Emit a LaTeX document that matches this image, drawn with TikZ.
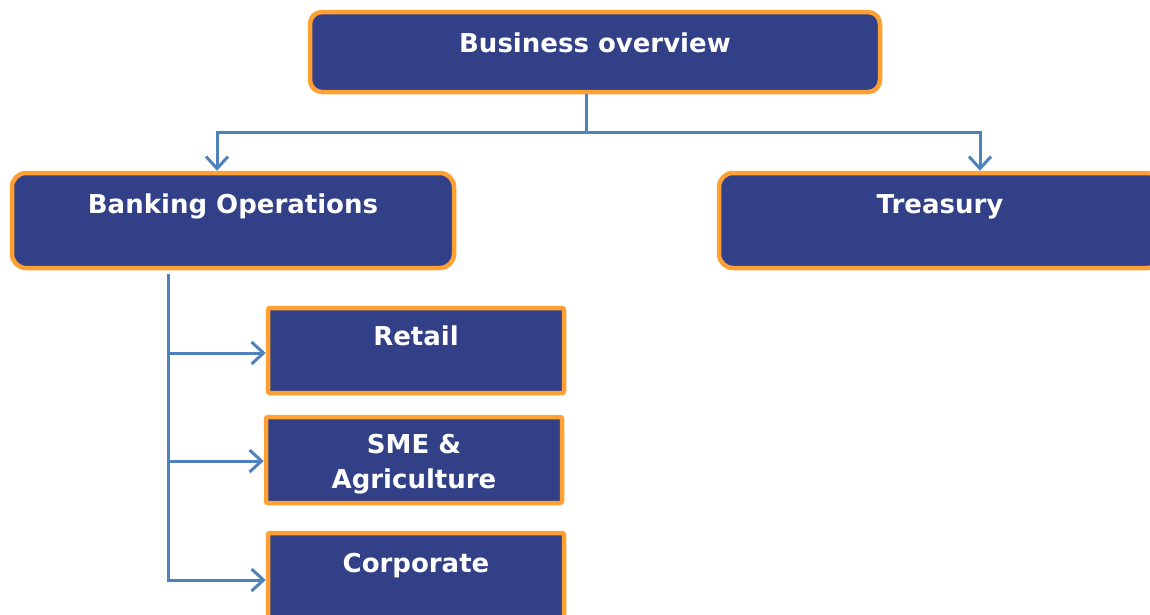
\documentclass[tikz,border=0pt]{standalone}
\usepackage{fontspec}
\setmainfont{DejaVu Sans}
\usetikzlibrary{arrows.meta}

\begin{document}
\begin{tikzpicture}[x=1pt, y=-1pt,
        unitbox/.style={draw=boxedge, fill=boxfill, line width=4.5pt, text=white,
            font=\fontsize{26}{35}\selectfont\bfseries, inner sep=0pt, align=center},
        link/.style={draw=linkblue, line width=3pt},
        arrowlink/.style={link, -{Straight Barb[length=12pt, width=22pt, line width=3pt]}}]
        % Define colors
        \definecolor{boxfill}{RGB}{50,64,136}
        \definecolor{boxedge}{RGB}{255,160,50}
        \definecolor{linkblue}{RGB}{79,129,189}

        % Fixed page size
        \useasboundingbox (0,0) rectangle (1150,614);

        % Top level
        \node[unitbox, rounded corners=12pt, minimum width=570pt, anchor=base,
              text height=40pt, text depth=40pt] (overview) at (595,52) {Business overview};

        % Second level
        \node[unitbox, rounded corners=14pt, minimum width=442pt, anchor=base,
              text height=40pt, text depth=55pt] (banking) at (233,213) {Banking Operations};
        \node[unitbox, rounded corners=14pt, minimum width=442pt, anchor=base,
              text height=40pt, text depth=55pt] (treasury) at (940,213) {Treasury};

        % Banking units
        \node[unitbox, rounded corners=2pt, minimum width=296pt, anchor=base,
              text height=37pt, text depth=48pt] (retail) at (416,345) {Retail};
        \node[unitbox, rounded corners=2pt, minimum width=296pt, anchor=base,
              text height=71pt, text depth=15pt] (sme) at (414,488) {SME \&\\Agriculture};
        \node[unitbox, rounded corners=2pt, minimum width=296pt, anchor=base,
              text height=39pt, text depth=46pt] (corporate) at (416,572) {Corporate};

        % Connectors from the top
        \coordinate (split) at (586,132);
        \draw[link] (split |- overview.south) -- (split);
        \draw[arrowlink] (split) -| ([xshift=-16pt]banking.north);
        \draw[arrowlink] (split) -| ([xshift=40pt]treasury.north);

        % Connectors to the banking units
        \coordinate (trunk) at (168,0);
        \draw[link] ([yshift=-4pt]trunk |- banking.south) -- ([yshift=-6pt]trunk |- corporate.west);
        \foreach \unit/\dy in {retail/-2.5, sme/-1, corporate/-4.5}
            \draw[arrowlink] ([yshift=\dy pt]trunk |- \unit.west) -- ([yshift=\dy pt]\unit.west);

    \end{tikzpicture}
\end{document}
